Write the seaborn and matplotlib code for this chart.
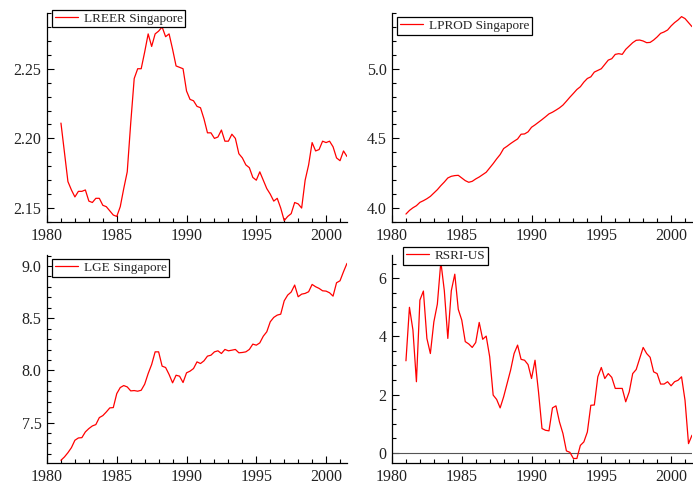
"""
Four quarterly Singapore / US series, 1981Q1-2001Q3, in OxMetrics-like panels.
"""
import numpy as np
import pandas as pd
import seaborn as sns
from matplotlib.ticker import MultipleLocator

import matplotlib  # isort:skip

matplotlib.use("agg")
import matplotlib.pyplot as plt  # noqa isort:skip

START_YEAR = 1981.0
QUARTER = 0.25

LREER = [
    2.211, 2.190, 2.169, 2.163, 2.158, 2.162, 2.162, 2.163, 2.155, 2.154,
    2.157, 2.157, 2.152, 2.151, 2.148, 2.145, 2.144, 2.151, 2.164, 2.176,
    2.211, 2.243, 2.250, 2.250, 2.262, 2.275, 2.266, 2.275, 2.277, 2.280,
    2.273, 2.275, 2.264, 2.252, 2.251, 2.250, 2.234, 2.228, 2.227, 2.223,
    2.222, 2.214, 2.204, 2.204, 2.200, 2.201, 2.206, 2.198, 2.198, 2.203,
    2.200, 2.189, 2.186, 2.181, 2.179, 2.172, 2.170, 2.176, 2.170, 2.164,
    2.160, 2.155, 2.157, 2.150, 2.141, 2.144, 2.146, 2.154, 2.153, 2.150,
    2.170, 2.181, 2.197, 2.191, 2.192, 2.198, 2.197, 2.198, 2.194, 2.186,
    2.184, 2.191, 2.187,
]

LPROD = [
    3.957, 3.983, 4.002, 4.017, 4.041, 4.053, 4.067, 4.084, 4.108, 4.132,
    4.161, 4.187, 4.216, 4.228, 4.233, 4.235, 4.216, 4.197, 4.185, 4.192,
    4.209, 4.223, 4.240, 4.257, 4.288, 4.319, 4.353, 4.384, 4.427, 4.444,
    4.463, 4.480, 4.496, 4.530, 4.532, 4.547, 4.580, 4.597, 4.616, 4.635,
    4.655, 4.676, 4.688, 4.703, 4.719, 4.739, 4.767, 4.796, 4.823, 4.851,
    4.871, 4.904, 4.930, 4.942, 4.976, 4.988, 5.000, 5.031, 5.062, 5.072,
    5.103, 5.108, 5.103, 5.139, 5.163, 5.187, 5.204, 5.206, 5.199, 5.187,
    5.189, 5.206, 5.228, 5.254, 5.264, 5.278, 5.307, 5.331, 5.350, 5.374,
    5.360, 5.331, 5.302,
]

LGE = [
    7.139, 7.171, 7.212, 7.260, 7.331, 7.353, 7.356, 7.411, 7.443, 7.468,
    7.481, 7.548, 7.567, 7.602, 7.641, 7.644, 7.778, 7.836, 7.855, 7.842,
    7.804, 7.807, 7.801, 7.810, 7.868, 7.970, 8.057, 8.178, 8.178, 8.041,
    8.028, 7.961, 7.881, 7.954, 7.945, 7.884, 7.977, 7.993, 8.018, 8.082,
    8.066, 8.092, 8.137, 8.146, 8.178, 8.188, 8.162, 8.201, 8.188, 8.194,
    8.201, 8.169, 8.172, 8.178, 8.201, 8.252, 8.242, 8.264, 8.328, 8.370,
    8.466, 8.508, 8.530, 8.539, 8.667, 8.722, 8.751, 8.818, 8.706, 8.731,
    8.738, 8.754, 8.824, 8.802, 8.786, 8.763, 8.760, 8.744, 8.712, 8.840,
    8.859, 8.946, 9.026,
]

RSRI_US = [
    3.16, 5.00, 4.22, 2.44, 5.25, 5.56, 3.93, 3.41, 4.50, 5.11,
    6.57, 5.57, 3.93, 5.57, 6.14, 4.93, 4.56, 3.82, 3.74, 3.62,
    3.79, 4.48, 3.90, 4.01, 3.30, 1.98, 1.83, 1.54, 1.92, 2.38,
    2.84, 3.41, 3.70, 3.21, 3.18, 3.03, 2.55, 3.18, 2.09, 0.83,
    0.77, 0.75, 1.54, 1.61, 1.06, 0.66, 0.06, 0.01, -0.20, -0.20,
    0.25, 0.37, 0.71, 1.63, 1.64, 2.61, 2.93, 2.55, 2.72, 2.59,
    2.21, 2.21, 2.21, 1.75, 2.09, 2.72, 2.86, 3.24, 3.62, 3.41,
    3.28, 2.78, 2.72, 2.36, 2.36, 2.44, 2.30, 2.44, 2.49, 2.61,
    1.80, 0.31, 0.60,
]

# label, values, ylim, major step, minor step, legend anchor, axes rect (px)
PANELS = [
    ("LREER Singapore", LREER, (2.140, 2.290), 0.05, 0.01, (0.017, 1.015),
     (47, 13, 347, 222)),
    ("LPROD Singapore", LPROD, (3.90, 5.40), 0.5, 0.1, (0.017, 0.98),
     (392, 13, 692, 222)),
    ("LGE Singapore", LGE, (7.113, 9.106), 0.5, 0.1, (0.017, 0.98),
     (47, 255, 347, 463)),
    ("RSRI-US", RSRI_US, (-0.356, 6.80), 2, 0.5, (0.037, 1.038),
     (392, 255, 692, 463)),
]

W, H = 693, 488


def style_axis(ax, ylim, major, minor):
    ax.set_xlim(1980, START_YEAR + QUARTER * (len(LREER) - 1))
    ax.set_ylim(*ylim)
    ax.xaxis.set_major_locator(MultipleLocator(5))
    ax.xaxis.set_minor_locator(MultipleLocator(1))
    ax.yaxis.set_major_locator(MultipleLocator(major))
    ax.yaxis.set_minor_locator(MultipleLocator(minor))
    for side in ("top", "right"):
        ax.spines[side].set_visible(False)
    for side in ("left", "bottom"):
        ax.spines[side].set_color("black")
        ax.spines[side].set_linewidth(0.9)
    ax.tick_params(which="both", direction="in", color="black", width=0.8,
                   bottom=True, left=True, top=False, right=False,
                   labelsize=11.5, labelcolor="#222222")
    ax.tick_params(which="major", length=5)
    ax.tick_params(which="minor", length=3)
    ax.tick_params(axis="x", pad=4)
    ax.tick_params(axis="y", pad=4)
    ax.set_xlabel("")
    ax.set_ylabel("")


def main():
    sns.set_style("white")
    plt.rcParams["font.family"] = ["Liberation Serif", "DejaVu Serif"]

    fig = plt.figure(figsize=(W / 100, H / 100), dpi=100)
    for label, values, ylim, major, minor, anchor, (x0, y0, x1, y1) in PANELS:
        ax = fig.add_axes([x0 / W, 1 - y1 / H, (x1 - x0) / W, (y1 - y0) / H])
        df = pd.DataFrame({
            "year": START_YEAR + QUARTER * np.arange(len(values)),
            "value": values,
        })
        if label == "RSRI-US":
            ax.axhline(0, color="#555555", linewidth=0.8, zorder=1)
        sns.lineplot(data=df, x="year", y="value", ax=ax, color="red",
                     linewidth=0.9, label=label)
        style_axis(ax, ylim, major, minor)
        leg = ax.legend(loc="upper left", bbox_to_anchor=anchor,
                        borderaxespad=0, fancybox=False, framealpha=1,
                        edgecolor="black", fontsize=9.5, handlelength=1.8,
                        handletextpad=0.4, borderpad=0.2)
        leg.get_frame().set_linewidth(0.9)

    fig.savefig("out.png", dpi=100)


if __name__ == "__main__":
    main()
